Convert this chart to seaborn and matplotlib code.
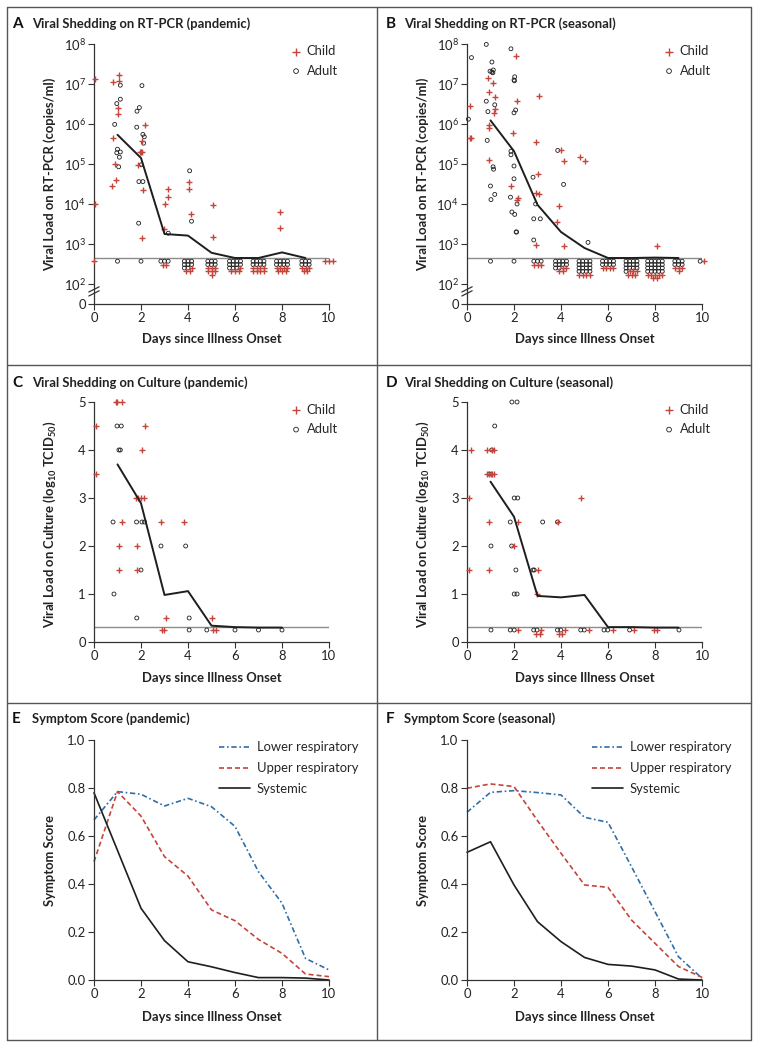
import numpy as np
import pandas as pd
import matplotlib
matplotlib.use("Agg")
import matplotlib.pyplot as plt
import matplotlib.transforms as mtransforms
import seaborn as sns

sns.set_theme(style="ticks")
plt.rcParams['font.family'] = ['Lato', 'DejaVu Sans']
plt.rcParams['mathtext.fontset'] = 'custom'
plt.rcParams['mathtext.rm'] = 'Lato'
plt.rcParams['mathtext.bf'] = 'Lato:bold'
plt.rcParams['mathtext.it'] = 'Lato:italic'

RED = "#c4453b"
BLUE = "#2f6ea8"
INK = "#1e1e1e"
GRAY = "#8c8c8c"
FS = 9.4

# ---------------- data ----------------
# RT-PCR viral load, log10 copies/ml (pandemic)
a_child_day = [0.06, 0.80, 1.05, 1.05, 1.04, 1.04, 0.82, 0.90, 0.94, 0.78, 2.15, 2.04, 1.96, 2.00, 2.04,
               1.89, 2.10, 2.04, 2.96, 3.14, 3.17, 3.00, 4.05, 4.05, 4.13, 5.07, 5.07, 7.93, 7.93, 0.06]
a_child_log = [7.13, 7.05, 7.22, 7.07, 6.40, 6.26, 5.64, 5.00, 4.61, 4.44, 5.97, 5.58, 5.30, 5.31, 5.29,
               4.97, 4.36, 3.15, 3.37, 4.38, 4.17, 4.00, 4.56, 4.38, 3.76, 3.98, 3.17, 3.80, 3.40, 4.00]
a_adult_day = [1.12, 2.04, 1.12, 0.97, 1.93, 1.83, 0.88, 1.82, 2.08, 2.14, 2.11, 1.00, 1.12, 0.97, 1.08,
               1.05, 2.01, 1.91, 2.08, 4.07, 4.15, 1.90, 3.16]
a_adult_log = [6.97, 6.96, 6.62, 6.51, 6.41, 6.32, 5.99, 5.92, 5.74, 5.68, 5.52, 5.37, 5.30, 5.28, 5.17,
               4.93, 4.98, 4.56, 4.56, 4.83, 3.57, 3.52, 3.27]
# undetectable samples per day (shown stacked below the detection limit)
lod_days = [0, 1, 2, 3, 4, 5, 6, 7, 8, 9, 10]
a_lod_adult = [0, 1, 1, 3, 8, 6, 11, 8, 8, 6, 0]
a_lod_child = [1, 0, 0, 2, 3, 7, 4, 8, 7, 5, 3]
a_lod_cols = [1, 1, 1, 3, 3, 3, 4, 4, 4, 3, 3]
a_line_day = [1, 2, 3, 4, 5, 6, 7, 8, 9]
a_line_log = [5.73, 5.15, 3.25, 3.21, 2.78, 2.65, 2.65, 2.79, 2.65]

# RT-PCR viral load (seasonal)
b_child_day = [2.09, 0.91, 1.11, 0.92, 1.18, 2.14, 3.05, 0.11, 1.18, 1.15, 0.95, 0.95, 0.11, 0.16, 1.94,
               2.92, 4.00, 4.11, 4.81, 5.00, 0.92, 3.01, 1.89, 2.95, 3.08, 2.16, 2.13, 3.90, 3.83, 2.95,
               4.13, 8.10]
b_child_log = [7.69, 7.16, 7.02, 6.80, 6.68, 6.57, 6.70, 6.46, 6.38, 6.28, 5.97, 5.90, 5.66, 5.64, 5.77,
               5.55, 5.34, 5.07, 5.18, 5.07, 5.10, 4.75, 4.45, 4.27, 4.24, 4.16, 4.10, 3.95, 3.56, 2.98,
               2.96, 2.96]
b_adult_day = [0.82, 1.87, 0.19, 1.06, 0.98, 1.06, 1.12, 1.10, 2.03, 2.00, 2.02, 0.82, 1.18, 2.07, 2.00,
               0.89, 0.06, 0.86, 1.87, 1.87, 2.00, 1.11, 1.13, 2.81, 2.00, 1.00, 1.18, 1.02, 1.85, 2.13,
               2.92, 1.91, 2.03, 2.84, 3.12, 2.09, 2.11, 4.11, 3.86, 5.15, 2.84]
b_adult_log = [7.99, 7.88, 7.66, 7.55, 7.32, 7.30, 7.35, 7.28, 7.18, 7.10, 7.08, 6.57, 6.48, 6.35, 6.28,
               6.31, 6.12, 5.59, 5.32, 5.23, 4.95, 4.93, 4.87, 4.67, 4.63, 4.45, 4.24, 4.11, 4.17, 4.00,
               4.00, 3.80, 3.74, 3.63, 3.63, 3.30, 3.30, 4.49, 5.34, 3.04, 3.10]
b_lod_adult = [0, 1, 1, 3, 10, 16, 8, 13, 20, 6, 1]
b_lod_child = [0, 0, 0, 3, 4, 4, 4, 6, 7, 4, 1]
b_lod_cols = [1, 1, 1, 3, 4, 4, 4, 4, 5, 3, 2]
b_line_day = [1, 2, 3, 4, 5, 6, 7, 8, 9]
b_line_log = [6.09, 5.32, 3.98, 3.30, 2.90, 2.65, 2.65, 2.66, 2.65]
pcr_lod = 2.65

# Culture, log10 TCID50 (pandemic)
c_child_day = [0.93, 0.99, 1.18, 0.10, 2.15, 2.03, 0.10, 1.77, 1.87, 2.01, 2.13, 1.20, 2.85, 3.85, 1.05,
               1.82, 1.05, 1.85, 3.05, 5.00, 2.88, 2.98, 5.07, 5.21]
c_child_val = [5.0, 5.0, 5.0, 4.5, 4.5, 4.0, 3.5, 3.0, 3.0, 3.0, 3.0, 2.5, 2.5, 2.5, 2.0,
               2.0, 1.5, 1.5, 0.5, 0.5, 0.25, 0.25, 0.25, 0.25]
c_adult_day = [0.98, 1.16, 1.06, 1.12, 0.81, 1.81, 2.04, 2.15, 2.85, 3.90, 2.00, 0.85, 1.82, 4.05, 4.05,
               4.80, 6.00, 7.00, 8.00]
c_adult_val = [4.5, 4.5, 4.0, 4.0, 2.5, 2.5, 2.5, 2.5, 2.0, 2.0, 1.5, 1.0, 0.5, 0.5, 0.25,
               0.25, 0.25, 0.25, 0.25]
c_line_day = [1, 2, 3, 4, 5, 6, 7, 8]
c_line_val = [3.70, 2.89, 0.98, 1.06, 0.34, 0.31, 0.30, 0.30]

# Culture (seasonal)
d_child_day = [0.15, 0.87, 1.08, 1.13, 0.85, 0.92, 1.00, 1.08, 1.15, 0.08, 4.83, 0.92, 2.15, 3.87, 2.02,
               0.10, 0.95, 3.04, 2.98, 2.18, 3.17, 4.17, 5.19, 6.20, 7.10, 7.94, 8.10, 2.94, 3.11, 3.90,
               4.06]
d_child_val = [4.0, 4.0, 4.0, 4.0, 3.5, 3.5, 3.5, 3.5, 3.5, 3.0, 3.0, 2.5, 2.5, 2.5, 2.0,
               1.5, 1.5, 1.5, 1.0, 0.25, 0.25, 0.25, 0.25, 0.25, 0.25, 0.25, 0.25, 0.17, 0.17, 0.17,
               0.17]
d_adult_day = [1.91, 2.13, 1.18, 1.05, 0.95, 2.01, 2.16, 1.84, 3.22, 3.85, 1.02, 1.90, 2.08, 2.81, 2.86,
               2.01, 2.13, 1.02, 1.84, 2.01, 2.84, 2.98, 3.85, 3.99, 4.84, 4.99, 5.83, 5.99, 6.92, 9.02]
d_adult_val = [5.0, 5.0, 4.5, 4.0, 3.5, 3.0, 3.0, 2.5, 2.5, 2.5, 2.0, 2.0, 1.5, 1.5, 1.5,
               1.0, 1.0, 0.25, 0.25, 0.25, 0.25, 0.25, 0.25, 0.25, 0.25, 0.25, 0.25, 0.25, 0.25, 0.25]
d_line_day = [1, 2, 3, 4, 5, 6, 7, 8, 9]
d_line_val = [3.34, 2.61, 0.96, 0.93, 0.98, 0.31, 0.31, 0.30, 0.30]
culture_lod = 0.31

# Symptom scores
days = list(range(11))
e_lower = [0.667, 0.785, 0.774, 0.725, 0.757, 0.722, 0.640, 0.451, 0.320, 0.090, 0.042]
e_upper = [0.493, 0.785, 0.683, 0.514, 0.433, 0.292, 0.247, 0.169, 0.111, 0.025, 0.014]
e_system = [0.780, 0.540, 0.299, 0.164, 0.076, 0.055, 0.031, 0.010, 0.010, 0.008, 0.000]
f_lower = [0.699, 0.782, 0.789, 0.781, 0.771, 0.678, 0.657, 0.472, 0.285, 0.097, 0.007]
f_upper = [0.799, 0.817, 0.806, 0.664, 0.528, 0.396, 0.386, 0.250, 0.153, 0.056, 0.011]
f_system = [0.532, 0.576, 0.396, 0.243, 0.160, 0.094, 0.065, 0.058, 0.042, 0.004, 0.000]

symptom_kinds = ["Lower respiratory", "Upper respiratory", "Systemic"]

# ---------------- helpers ----------------
W, H = 759, 1048


def px_axes(l, r, top, bot):
    return [l / W, 1 - bot / H, (r - l) / W, (bot - top) / H]


def lod_stack(n_adult, n_child, ncols, top, dy=0.085, dx=0.155):
    rows = []
    for d, na, nc, k in zip(lod_days, n_adult, n_child, ncols):
        groups = ["Adult"] * na + ["Child"] * nc
        n = len(groups)
        for i, g in enumerate(groups):
            r, c = divmod(i, k)
            in_row = min(k, n - r * k)
            rows.append((d + (c - (in_row - 1) / 2) * dx, top - r * dy, g))
    return pd.DataFrame(rows, columns=["day", "value", "group"])


def points_frame(cd, cv, ad, av):
    return pd.concat([
        pd.DataFrame({"day": cd, "value": cv, "group": "Child"}),
        pd.DataFrame({"day": ad, "value": av, "group": "Adult"}),
    ], ignore_index=True)


def style_axes(ax):
    sns.despine(ax=ax)
    for s in ("left", "bottom"):
        ax.spines[s].set_color("#333333")
        ax.spines[s].set_linewidth(0.9)
    ax.tick_params(axis="both", direction="out", length=4, width=0.8, color="#333333",
                   labelsize=FS, labelcolor="#222222", pad=2)
    ax.set_xlim(0, 10)
    ax.set_xticks([0, 2, 4, 6, 8, 10])
    ax.set_xlabel("Days since Illness Onset", fontsize=FS, fontweight="bold", color="#222222")
    ax.xaxis.label.set_va("center")
    ax.yaxis.label.set_va("center")


def draw_points(ax, df):
    child = df[df.group == "Child"]
    adult = df[df.group == "Adult"]
    sns.scatterplot(data=adult, x="day", y="value", marker="o", s=8, facecolor="none",
                    edgecolor=INK, linewidth=0.6, ax=ax, label="Adult", clip_on=False, zorder=3)
    sns.scatterplot(data=child, x="day", y="value", marker="+", s=20, color=RED,
                    linewidth=1.0, ax=ax, label="Child", clip_on=False, zorder=3)


def point_legend(ax):
    h, l = ax.get_legend_handles_labels()
    order = [l.index("Child"), l.index("Adult")]
    ax.legend([h[i] for i in order], [l[i] for i in order], loc="upper right",
              bbox_to_anchor=(1.07, 1.025), frameon=False, fontsize=FS, handletextpad=0.2,
              labelspacing=0.55, markerscale=1.2, borderaxespad=0.2, handlelength=1.2)


def viral_pcr(ax, cd, cl, ad, al, na, nc, ncols, line_d, line_v):
    df = pd.concat([points_frame(cd, cl, ad, al), lod_stack(na, nc, ncols, 2.57)], ignore_index=True)
    ax.axhline(pcr_lod, color=GRAY, lw=1.0, zorder=2)
    draw_points(ax, df)
    sns.lineplot(x=line_d, y=line_v, color=INK, lw=1.4, ax=ax, zorder=4)
    point_legend(ax)
    style_axes(ax)
    ax.set_ylim(1.5, 8)
    ax.set_yticks([1.5, 2, 3, 4, 5, 6, 7, 8])
    ax.set_yticklabels(["0"] + [f"$10^{{{k}}}$" for k in range(2, 9)])
    ax.set_ylabel("Viral Load on RT-PCR (copies/ml)", fontsize=FS, fontweight="bold", color="#222222")
    ax.yaxis.set_label_coords(-0.187, 0.5)
    ax.xaxis.set_label_coords(0.5, -0.135)
    # axis break marks
    tr = mtransforms.blended_transform_factory(ax.transAxes, ax.transData)
    for y0 in (1.70, 1.80):
        ax.plot([-0.022, 0.022], [y0, y0 + 0.13], color="#333333", lw=0.9, transform=tr, clip_on=False)


def viral_culture(ax, cd, cv, ad, av, line_d, line_v):
    df = points_frame(cd, cv, ad, av)
    ax.axhline(culture_lod, color=GRAY, lw=1.0, zorder=2)
    draw_points(ax, df)
    sns.lineplot(x=line_d, y=line_v, color=INK, lw=1.4, ax=ax, zorder=4)
    point_legend(ax)
    style_axes(ax)
    ax.set_ylim(0, 5)
    ax.set_yticks([0, 1, 2, 3, 4, 5])
    ax.set_ylabel(r"Viral Load on Culture (log$_{\mathbf{10}}$ TCID$_{\mathbf{50}}$)",
                  fontsize=FS, fontweight="bold", color="#222222")
    ax.yaxis.set_label_coords(-0.187, 0.49)
    ax.xaxis.set_label_coords(0.5, -0.15)


def symptoms(ax, lower, upper, system):
    df = pd.DataFrame({
        "day": days * 3,
        "score": lower + upper + system,
        "kind": [symptom_kinds[0]] * 11 + [symptom_kinds[1]] * 11 + [symptom_kinds[2]] * 11,
    })
    sns.lineplot(data=df, x="day", y="score", hue="kind", style="kind",
                 hue_order=symptom_kinds, style_order=symptom_kinds,
                 palette={symptom_kinds[0]: BLUE, symptom_kinds[1]: RED, symptom_kinds[2]: INK},
                 dashes={symptom_kinds[0]: (3.2, 1.6, 1.0, 1.6), symptom_kinds[1]: (3.0, 1.8),
                         symptom_kinds[2]: ""},
                 lw=1.2, ax=ax, clip_on=False)
    style_axes(ax)
    ax.set_ylim(0, 1)
    ax.set_yticks([0, 0.2, 0.4, 0.6, 0.8, 1.0])
    ax.set_yticklabels([f"{v:.1f}" for v in [0, 0.2, 0.4, 0.6, 0.8, 1.0]])
    ax.set_ylabel("Symptom Score", fontsize=FS, fontweight="bold", color="#222222")
    ax.yaxis.set_label_coords(-0.187, 0.5)
    ax.xaxis.set_label_coords(0.5, -0.154)
    h, l = ax.get_legend_handles_labels()
    ax.legend(h, l, loc="upper left", bbox_to_anchor=(0.532, 0.995), frameon=False, fontsize=FS,
              handlelength=2.4, handletextpad=0.5, labelspacing=0.68, borderpad=0, borderaxespad=0)


# ---------------- figure ----------------
fig = plt.figure(figsize=(W / 100, H / 100), dpi=100)

axA = fig.add_axes(px_axes(94, 329, 44, 304))
axB = fig.add_axes(px_axes(467, 702, 44, 304))
axC = fig.add_axes(px_axes(94, 329, 402, 642))
axD = fig.add_axes(px_axes(467, 702, 402, 642))
axE = fig.add_axes(px_axes(94, 329, 740, 980))
axF = fig.add_axes(px_axes(467, 702, 740, 980))

viral_pcr(axA, a_child_day, a_child_log, a_adult_day, a_adult_log,
          a_lod_adult, a_lod_child, a_lod_cols, a_line_day, a_line_log)
viral_pcr(axB, b_child_day, b_child_log, b_adult_day, b_adult_log,
          b_lod_adult, b_lod_child, b_lod_cols, b_line_day, b_line_log)
viral_culture(axC, c_child_day, c_child_val, c_adult_day, c_adult_val, c_line_day, c_line_val)
viral_culture(axD, d_child_day, d_child_val, d_adult_day, d_adult_val, d_line_day, d_line_val)
symptoms(axE, e_lower, e_upper, e_system)
symptoms(axF, f_lower, f_upper, f_system)

# panel titles
titles = [
    ("A", "Viral Shedding on RT-PCR (pandemic)", 12, 32, 24),
    ("B", "Viral Shedding on RT-PCR (seasonal)", 386, 404, 24),
    ("C", "Viral Shedding on Culture (pandemic)", 12, 32, 383),
    ("D", "Viral Shedding on Culture (seasonal)", 386, 404, 383),
    ("E", "Symptom Score (pandemic)", 12, 32, 719),
    ("F", "Symptom Score (seasonal)", 386, 404, 719),
]
for letter, text, xl, xt, yc in titles:
    fig.text(xl / W, 1 - yc / H, letter, fontsize=11, fontweight="bold", color="#111111",
             ha="left", va="center")
    fig.text(xt / W, 1 - yc / H, text, fontsize=FS, fontweight="bold", color="#222222",
             ha="left", va="center")

# panel frames
frame_kw = dict(color="#555555", lw=1.0, transform=fig.transFigure, clip_on=False)
x0, x1, xm = 7 / W, 751 / W, 377 / W
y0, y1 = 1 - 1040 / H, 1 - 7 / H
fig.add_artist(plt.Line2D([x0, x1, x1, x0, x0], [y0, y0, y1, y1, y0], **frame_kw))
fig.add_artist(plt.Line2D([xm, xm], [y0, y1], **frame_kw))
for yy in (365, 703):
    fig.add_artist(plt.Line2D([x0, x1], [1 - yy / H, 1 - yy / H], **frame_kw))

fig.savefig("out.png", dpi=100, facecolor="white")
